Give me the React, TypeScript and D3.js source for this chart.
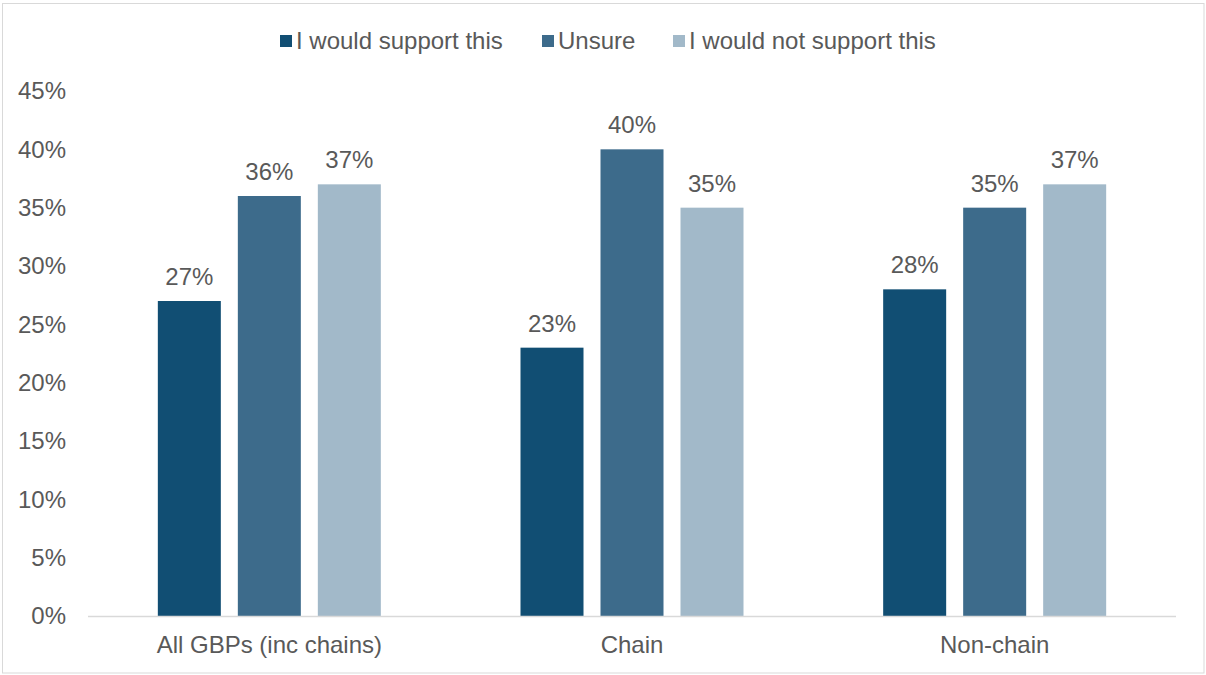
import React from "react";
import * as d3 from "d3";

const categories = ["All GBPs (inc chains)", "Chain", "Non-chain"];
const seriesNames = ["I would support this", "Unsure", "I would not support this"];
const supportValues = [0.27, 0.23, 0.28];
const unsureValues = [0.36, 0.40, 0.35];
const notSupportValues = [0.37, 0.35, 0.37];
const yTicks = [0, 0.05, 0.1, 0.15, 0.2, 0.25, 0.3, 0.35, 0.4, 0.45];
const colors = ["#114e73", "#3d6b8b", "#a2b9c9"];

const W = 1206;
const H = 675;
const M = { left: 88, right: 1176, top: 91, bottom: 616 };

export default function App() {
  const series = [supportValues, unsureValues, notSupportValues];
  const x0 = d3.scaleBand<string>().domain(categories).range([M.left, M.right]).paddingInner(0).paddingOuter(0);
  const groupW = 223;
  const x1 = d3.scaleBand<number>().domain([0, 1, 2]).range([0, groupW]).paddingInner(0.2125).paddingOuter(0);
  const y = d3.scaleLinear().domain([0, 0.45]).range([M.bottom, M.top]);
  const fmt = d3.format(".0%");
  const font = "'Liberation Sans', Arial, sans-serif";
  const legendX = [280, 542, 673];

  return (
    <svg width={W} height={H} style={{ position: "absolute", left: 0, top: 0 }} fontFamily={font}>
      <rect x={0} y={0} width={W} height={H} fill="#fff" />
      <rect x={2.5} y={3.5} width={1201.5} height={669.5} fill="none" stroke="#d9d9d9" strokeWidth={1} />
      {yTicks.map((t) => (
        <text key={t} x={66} y={y(t)} dy="0.35em" textAnchor="end" fontSize={24} fill="#595959">
          {fmt(t)}
        </text>
      ))}
      {categories.map((c, ci) => {
        const gx = (x0(c) as number) + x0.bandwidth() / 2 - groupW / 2;
        return (
          <g key={c}>
            {series.map((vals, si) => {
              const bx = gx + (x1(si) as number);
              const v = vals[ci];
              return (
                <g key={si}>
                  <rect x={bx} y={y(v)} width={x1.bandwidth()} height={y(0) - y(v)} fill={colors[si]} />
                  <text x={bx + x1.bandwidth() / 2} y={y(v) - 16} textAnchor="middle" fontSize={24} fill="#595959">
                    {fmt(v)}
                  </text>
                </g>
              );
            })}
            <text x={(x0(c) as number) + x0.bandwidth() / 2} y={653} textAnchor="middle" fontSize={24} fill="#595959">
              {c}
            </text>
          </g>
        );
      })}
      <line x1={M.left} x2={M.right} y1={M.bottom + 0.5} y2={M.bottom + 0.5} stroke="#d9d9d9" strokeWidth={1.5} />
      {seriesNames.map((s, i) => (
        <g key={s}>
          <rect x={legendX[i]} y={35} width={12} height={12} fill={colors[i]} />
          <text x={legendX[i] + 16} y={49} fontSize={24} fill="#595959">
            {s}
          </text>
        </g>
      ))}
    </svg>
  );
}
